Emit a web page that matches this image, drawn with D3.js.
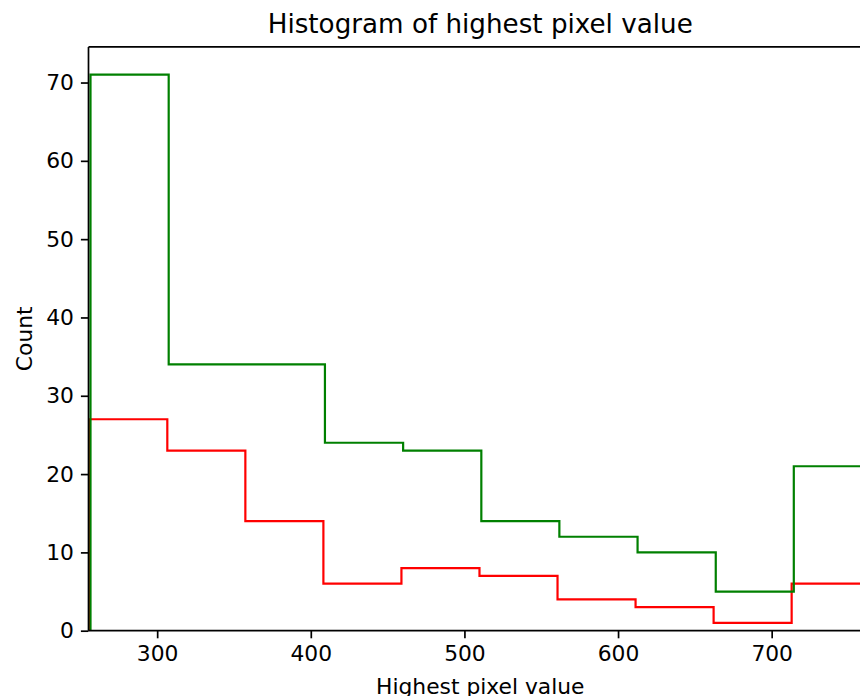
<html>
<head>
	<title>Histogram of highest pixel value</title>
	<meta charset="utf-8">
	<script src="https://d3js.org/d3.v7.min.js"></script>
	<style>
		body { margin: 0; background: #fff; }
		text { font-family: "DejaVu Sans", sans-serif; fill: #000; }
	</style>
</head>
<body>

	<script type="text/javascript">
		var width = 860
		var height = 696

		// bin edges (two hist calls, slightly different ranges)
		var greenEdges = [256.6, 307.5, 358.3, 409.2, 460.1, 511.0, 561.8, 612.7, 663.6, 714.4, 765.3]
		var greenCounts = [71, 34, 34, 24, 23, 14, 12, 10, 5, 21]

		var redEdges = [255.8, 306.6, 357.4, 408.2, 459.0, 509.8, 560.6, 611.4, 662.2, 713.0, 763.8]
		var redCounts = [27, 23, 14, 6, 8, 7, 4, 3, 1, 6]

		var xTicks = [300, 400, 500, 600, 700]
		var yTicks = [0, 10, 20, 30, 40, 50, 60, 70]

		// plot area (right edge falls outside the saved picture)
		var plotLeft = 88.5, plotRight = 872, plotTop = 46.9, plotBottom = 630.7

		var svg = d3.select("body").append("svg")
		  .attr("width", width)
		  .attr("height", height)

		var x = d3.scaleLinear().domain([255.3, 765.3]).range([plotLeft, plotRight])
		var y = d3.scaleLinear().domain([0, 74.55]).range([plotBottom, plotTop])

		// turn edges + counts into the outline of a step histogram
		function stepPoints(edges, counts) {
			var pts = [[edges[0], 0]]
			counts.forEach(function(c, i) {
				pts.push([edges[i], c])
				pts.push([edges[i + 1], c])
			})
			pts.push([edges[edges.length - 1], 0])
			return pts
		}

		var line = d3.line()
			.x(d => x(d[0]))
			.y(d => y(d[1]))

		svg.append("path")
			.attr("d", line(stepPoints(redEdges, redCounts)))
			.attr("fill", "none")
			.attr("stroke", "#ff0000")
			.attr("stroke-width", 2.2)

		svg.append("path")
			.attr("d", line(stepPoints(greenEdges, greenCounts)))
			.attr("fill", "none")
			.attr("stroke", "#008000")
			.attr("stroke-width", 2.2)

		// axes
		var xAxis = d3.axisBottom(x).tickValues(xTicks).tickSize(7.6).tickPadding(7)
		var yAxis = d3.axisLeft(y).tickValues(yTicks).tickSize(7.6).tickPadding(7)

		var gx = svg.append("g")
			.attr("transform", "translate(0," + plotBottom + ")")
			.call(xAxis)
		var gy = svg.append("g")
			.attr("transform", "translate(" + plotLeft + ",0)")
			.call(yAxis)

		gx.select(".domain").remove()
		gy.select(".domain").remove()
		svg.selectAll(".tick line").attr("stroke", "#000").attr("stroke-width", 1.7)
		svg.selectAll(".tick text").attr("font-size", "21.8px").attr("font-family", "DejaVu Sans")

		// spines (left, bottom, top)
		svg.append("line").attr("x1", plotLeft).attr("x2", plotLeft).attr("y1", plotTop).attr("y2", plotBottom)
			.attr("stroke", "#000").attr("stroke-width", 1.7)
		svg.append("line").attr("x1", plotLeft).attr("x2", plotRight).attr("y1", plotBottom).attr("y2", plotBottom)
			.attr("stroke", "#000").attr("stroke-width", 1.7)
		svg.append("line").attr("x1", plotLeft).attr("x2", plotRight).attr("y1", plotTop).attr("y2", plotTop)
			.attr("stroke", "#000").attr("stroke-width", 1.7)

		svg.append("text")
			.attr("x", (plotLeft + plotRight) / 2)
			.attr("y", 33)
			.attr("text-anchor", "middle")
			.attr("font-size", "26.2px")
			.text("Histogram of highest pixel value")

		svg.append("text")
			.attr("x", (plotLeft + plotRight) / 2)
			.attr("y", 694)
			.attr("text-anchor", "middle")
			.attr("font-size", "21.8px")
			.text("Highest pixel value")

		svg.append("text")
			.attr("transform", "translate(32," + (plotTop + plotBottom) / 2 + ") rotate(-90)")
			.attr("text-anchor", "middle")
			.attr("font-size", "21.8px")
			.text("Count")
	</script>
</body>
</html>
